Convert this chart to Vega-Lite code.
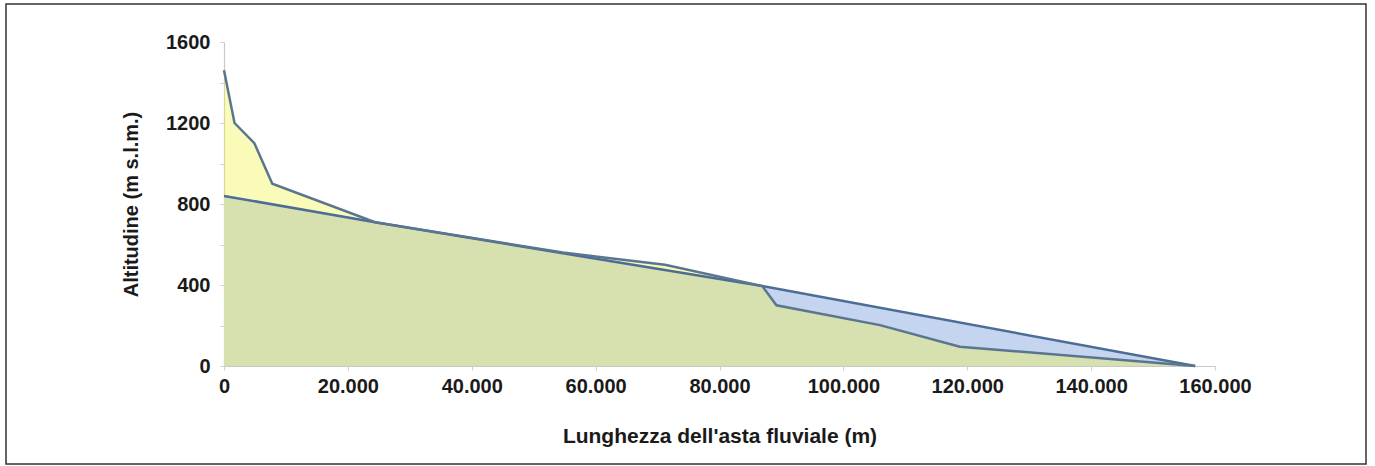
{
  "$schema": "https://vega.github.io/schema/vega-lite/v6.json",
  "autosize": {"type": "none"},
  "padding": {"left": 6, "top": 4, "right": 9, "bottom": 2},
  "width": 1360,
  "height": 460,
  "background": "white",
  "config": {
    "locale": {"number": {"decimal": ",", "thousands": ".", "grouping": [3], "currency": ["€", ""]}},
    "view": {"stroke": "#333333", "strokeWidth": 1.5},
    "font": "Liberation Sans"
  },
  "datasets": {
    "profilo": [
      {"distanza": 0, "quota": 1460},
      {"distanza": 1700, "quota": 1200},
      {"distanza": 4900, "quota": 1100},
      {"distanza": 7800, "quota": 900},
      {"distanza": 24400, "quota": 710},
      {"distanza": 54700, "quota": 560},
      {"distanza": 71200, "quota": 500},
      {"distanza": 86900, "quota": 395},
      {"distanza": 89200, "quota": 300},
      {"distanza": 105900, "quota": 202},
      {"distanza": 118800, "quota": 95},
      {"distanza": 156800, "quota": 0}
    ],
    "retta": [
      {"distanza": 0, "quota": 840},
      {"distanza": 24400, "quota": 710},
      {"distanza": 54700, "quota": 557},
      {"distanza": 86900, "quota": 395},
      {"distanza": 156800, "quota": 0}
    ]
  },
  "encoding": {
    "x": {
      "field": "distanza", "type": "quantitative",
      "scale": {"domain": [0, 160000], "range": [218, 1209], "nice": false, "zero": true},
      "axis": {
        "title": "Lunghezza dell'asta fluviale (m)",
        "values": [0, 20000, 40000, 60000, 80000, 100000, 120000, 140000, 160000],
        "format": ",d",
        "offset": -98,
        "grid": false,
        "domainColor": "#c8c8c8", "domainWidth": 1.2,
        "tickColor": "#d0d0d0", "tickSize": 4,
        "labelFont": "Liberation Sans", "labelFontSize": 20, "labelFontWeight": "bold", "labelColor": "#1a1a1a",
        "labelPadding": 6, "labelOverlap": false, "labelFlush": false,
        "titleFont": "Liberation Sans", "titleFontSize": 21, "titleFontWeight": "bold", "titleColor": "#1a1a1a",
        "titlePadding": 29
      }
    },
    "y": {
      "field": "quota", "type": "quantitative",
      "scale": {"domain": [0, 1600], "range": [362, 38], "nice": false},
      "axis": {
        "title": "Altitudine (m s.l.m.)",
        "values": [0, 200, 400, 600, 800, 1000, 1200, 1400, 1600],
        "labelExpr": "datum.value % 400 == 0 ? format(datum.value, 'd') : ''",
        "offset": -218,
        "grid": false,
        "domainColor": "#c8c8c8", "domainWidth": 1.2,
        "tickColor": "#d0d0d0", "tickSize": 4,
        "labelFont": "Liberation Sans", "labelFontSize": 20, "labelFontWeight": "bold", "labelColor": "#1a1a1a",
        "labelPadding": 10, "labelOverlap": false, "labelFlush": false,
        "titleFont": "Liberation Sans", "titleFontSize": 20, "titleFontWeight": "bold", "titleColor": "#1a1a1a",
        "titlePadding": 24
      }
    }
  },
  "layer": [
    {"data": {"name": "retta"}, "mark": {"type": "area", "color": "#c6d5ef", "opacity": 1}},
    {"data": {"name": "profilo"}, "mark": {"type": "area", "color": "#f4f442", "opacity": 0.37}},
    {"data": {"name": "retta"}, "mark": {"type": "line", "color": "#4d6d96", "strokeWidth": 2.5}},
    {"data": {"name": "profilo"}, "mark": {"type": "line", "color": "#5a7590", "strokeWidth": 2.5}}
  ]
}
